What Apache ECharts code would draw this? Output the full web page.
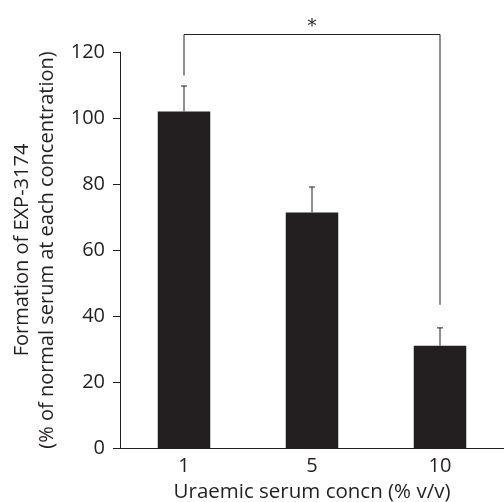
<!DOCTYPE html>
<html lang="en">
<head>
    <meta charset="UTF-8">
    <title>EXP-3174 formation</title>
    <script src="https://cdn.jsdelivr.net/npm/echarts@6/dist/echarts.min.js"></script>
    <style>
        html, body { margin: 0; padding: 0; background: #fff; }
        #main { width: 504px; height: 502px; }
    </style>
</head>
<body>
<div id="main"></div>
<script>
    // data
    var concn = ['1', '5', '10'];
    var meanVals = [102, 71.4, 31];
    var errTops = [109.7, 79.1, 36.4];

    // significance bracket between 1 and 10 (% v/v)
    var sigFrom = ['1', 112.9];
    var sigTo = ['10', 43.4];
    var sigLevel = 125.3;
    var sigMark = '*';

    var ink = '#231f20';
    var font = 'Open Sans';

    var myChart = echarts.init(document.getElementById('main'));

    var errData = concn.map(function (c, i) { return [i, meanVals[i], errTops[i]]; });

    var option = {
        animation: false,
        grid: { left: 120, right: 0, top: 52, bottom: 54, containLabel: false, outerBoundsMode: 'none' },
        xAxis: {
            type: 'category',
            data: concn,
            axisLine: { lineStyle: { color: ink, width: 1 } },
            axisTick: { show: false },
            axisLabel: { color: ink, fontSize: 20, fontFamily: font, margin: 8 },
            name: 'Uraemic serum concn (% v/v)',
            nameLocation: 'middle',
            nameGap: 34,
            nameTextStyle: { color: ink, fontSize: 20.5, fontFamily: font }
        },
        yAxis: {
            type: 'value',
            min: 0, max: 120, interval: 20,
            splitLine: { show: false },
            axisLine: { show: true, lineStyle: { color: ink, width: 1 } },
            axisTick: { show: true, length: 7, lineStyle: { color: ink } },
            axisLabel: { color: ink, fontSize: 20, fontFamily: font, margin: 15 },
            name: 'Formation of EXP-3174\n(% of normal serum at each concentration)',
            nameLocation: 'middle',
            nameGap: 57,
            nameTextStyle: { color: ink, fontSize: 20, fontFamily: font, lineHeight: 25 }
        },
        series: [
            {
                type: 'bar',
                data: meanVals,
                barWidth: '41%',
                itemStyle: { color: ink },
                z: 2
            },
            {
                type: 'custom',
                data: errData,
                z: 3,
                renderItem: function (params, api) {
                    var lo = api.coord([api.value(0), api.value(1)]);
                    var hi = api.coord([api.value(0), api.value(2)]);
                    var st = { stroke: ink, lineWidth: 1, fill: null };
                    return {
                        type: 'group',
                        children: [
                            { type: 'line', shape: { x1: lo[0], y1: lo[1], x2: hi[0], y2: hi[1] }, style: st },
                            { type: 'line', shape: { x1: hi[0] - 3, y1: hi[1], x2: hi[0] + 3, y2: hi[1] }, style: st }
                        ]
                    };
                }
            },
            {
                type: 'custom',
                data: [[concn.indexOf(sigFrom[0]), sigFrom[1], concn.indexOf(sigTo[0]), sigTo[1], sigLevel]],
                z: 3,
                renderItem: function (params, api) {
                    var a = api.coord([api.value(0), api.value(1)]);
                    var b = api.coord([api.value(2), api.value(3)]);
                    var top = api.coord([api.value(0), api.value(4)])[1];
                    var st = { stroke: ink, lineWidth: 1, fill: null };
                    return {
                        type: 'group',
                        children: [
                            { type: 'polyline', shape: { points: [[a[0], a[1]], [a[0], top], [b[0], top], [b[0], b[1]]] }, style: st },
                            { type: 'text', x: (a[0] + b[0]) / 2, y: top + 2,
                              style: { text: sigMark, fill: ink, font: '18px "DejaVu Serif"', align: 'center', verticalAlign: 'bottom' } }
                        ]
                    };
                }
            }
        ]
    };
    myChart.setOption(option);
</script>
</body>
</html>
